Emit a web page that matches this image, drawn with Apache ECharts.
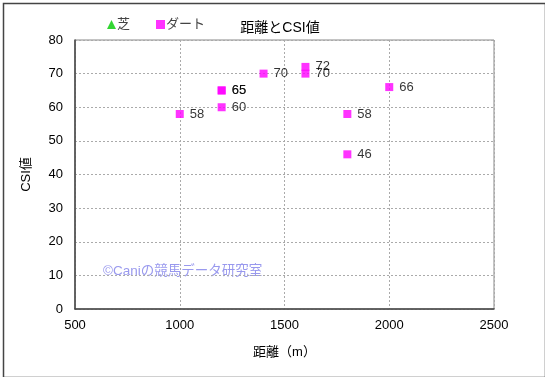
<!DOCTYPE html>
<html>
<head>
<meta charset="utf-8">
<script src="https://cdn.jsdelivr.net/npm/echarts@6/dist/echarts.min.js"></script>
<style>
  html, body { margin: 0; padding: 0; background: #fff; }
  #chart { width: 545px; height: 377px; }
</style>
</head>
<body>
<div id="chart"></div>
<script>
  // 距離 (m) と CSI値
  var turfPoints = [];
  var dirtDistance = [1000, 1200, 1200, 1200, 1400, 1600, 1600, 1800, 1800, 2000];
  var dirtCsi = [58, 65, 65, 60, 70, 72, 70, 58, 46, 66];
  var seriesNames = ['芝', 'ダート'];

  var font = '"Liberation Sans", "Noto Sans CJK JP", sans-serif';
  var chart = echarts.init(document.getElementById('chart'));

  var dirtData = dirtDistance.map(function (d, i) { return [d, dirtCsi[i]]; });

  chart.setOption({
    animation: false,
    textStyle: { fontFamily: font },
    title: {
      text: '距離とCSI値',
      left: 275, top: 16, textAlign: 'center',
      textStyle: { fontSize: 14, fontWeight: 'normal', color: '#000', fontFamily: font }
    },
    legend: {
      left: 102, top: 13, itemGap: 26, itemWidth: 9, itemHeight: 9,
      textStyle: { fontSize: 13, color: '#444', padding: [0, 0, 0, -4] },
      data: [
        { name: seriesNames[0], icon: 'triangle' },
        { name: seriesNames[1], icon: 'rect' }
      ]
    },
    grid: { left: 75, right: 51, top: 40, bottom: 68, show: true, borderColor: '#888', borderWidth: 1 },
    xAxis: {
      type: 'value', min: 500, max: 2500, interval: 500,
      name: '距離（m）', nameLocation: 'middle', nameGap: 37,
      nameTextStyle: { fontSize: 13, color: '#000' },
      axisLine: { lineStyle: { color: '#444', width: 1.5 } },
      axisTick: { show: false },
      axisLabel: { fontSize: 13, color: '#000', margin: 10, formatter: function (v) { return String(v); } },
      splitLine: { lineStyle: { color: '#aaa', type: [2, 2] } }
    },
    yAxis: {
      type: 'value', min: 0, max: 80, interval: 10,
      name: 'CSI値', nameLocation: 'middle', nameGap: 42, nameRotate: 90,
      nameTextStyle: { fontSize: 13, color: '#000' },
      axisLine: { show: true, lineStyle: { color: '#444', width: 1.5 } },
      axisTick: { show: false },
      axisLabel: { fontSize: 13, color: '#000', margin: 12 },
      splitLine: { lineStyle: { color: '#aaa', type: [2, 2] } }
    },
    series: [
      {
        name: seriesNames[0], type: 'scatter', symbol: 'triangle', symbolSize: 9,
        itemStyle: { color: '#00cc00' }, data: turfPoints
      },
      {
        name: seriesNames[1], type: 'scatter', symbol: 'rect', symbolSize: 8,
        itemStyle: { color: '#ff00ff' },
        label: {
          show: true, position: 'right', distance: 6,
          fontSize: 13, color: '#000',
          formatter: function (p) { return p.value[1]; }
        },
        data: dirtData
      }
    ],
    graphic: [
      {
        type: 'rect', left: 1, top: 1, silent: true,
        shape: { width: 542, height: 374 },
        style: { fill: 'none', stroke: '#444', lineWidth: 1.5 }
      },
      {
        type: 'text', left: 103, top: 265, silent: true,
        style: { text: '©Caniの競馬データ研究室', fill: '#9999ee', font: '13.5px ' + font }
      }
    ]
  });
</script>
</body>
</html>
